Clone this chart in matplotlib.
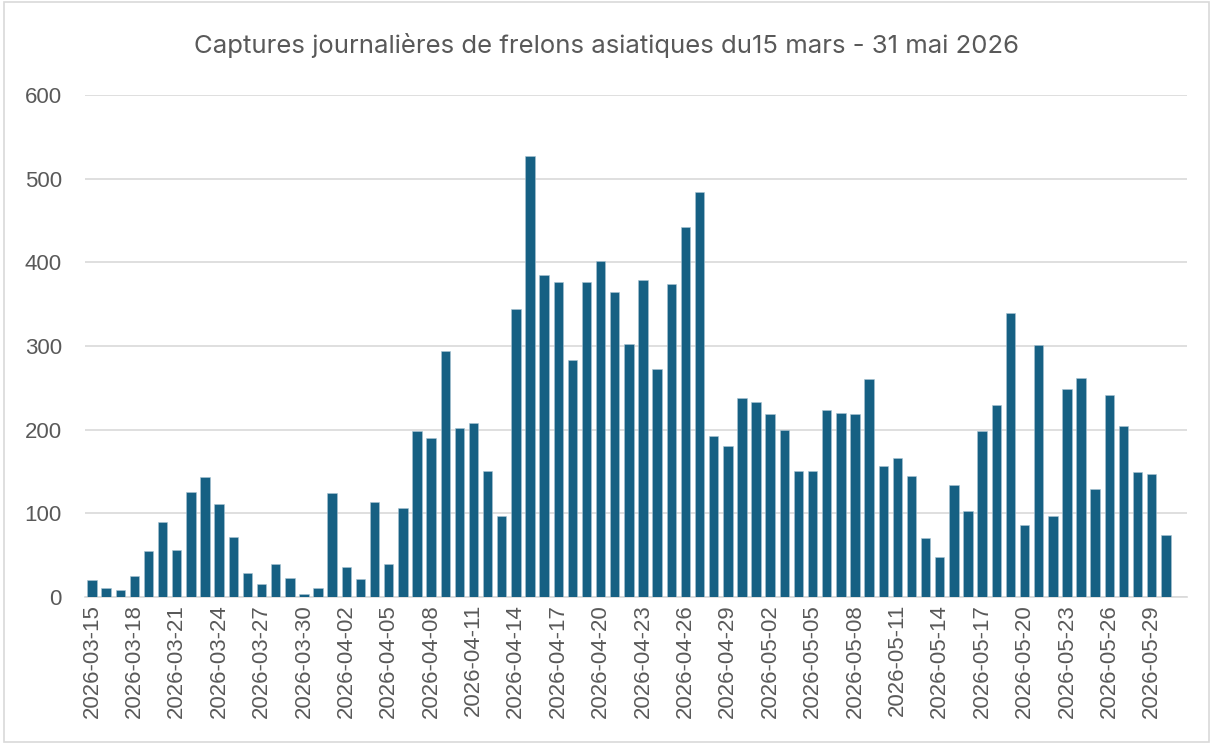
import pandas as pd
import matplotlib.pyplot as plt
from matplotlib.patches import Rectangle

# Daily captures, 2026-03-15 .. 2026-05-30 (axis runs to 05-31)
start_date = "2026-03-15"
end_date = "2026-05-31"
captures = [20, 11, 8, 25, 55, 90, 56, 126, 144, 111,
            72, 29, 15, 39, 23, 3, 11, 124, 36, 22,
            114, 40, 106, 198, 190, 294, 202, 208, 151, 97,
            344, 527, 385, 376, 283, 377, 402, 364, 302, 379,
            272, 374, 442, 484, 193, 181, 238, 233, 219, 200,
            151, 151, 224, 220, 219, 260, 157, 166, 145, 71,
            48, 134, 103, 198, 230, 340, 86, 301, 97, 249,
            262, 129, 242, 204, 149, 147, 74]
y_ticks = [0, 100, 200, 300, 400, 500, 600]
title = "Captures journalières de frelons asiatiques du15 mars - 31 mai 2026"

dates = pd.date_range(start_date, end_date, freq="D")
labels = [d.strftime("%Y-%m-%d") for d in dates]

bar_color = "#166083"
text_color = "#595959"
grid_color = "#d9d9d9"

plt.rcParams['font.family'] = ['Liberation Sans', 'DejaVu Sans']

fig = plt.figure(figsize=(12.13, 7.44), dpi=100)
ax = fig.add_axes([0.070, 0.1976, 0.9086, 0.6747])

ax.bar(range(len(captures)), captures, width=0.667, color=bar_color,
       edgecolor="#a9c4d3", linewidth=0.4, zorder=3)

ax.set_xlim(-0.5, len(dates) - 0.5)
ax.set_ylim(0, 600)
ax.set_yticks(y_ticks)
ax.set_yticklabels([str(v) for v in y_ticks])
ax.set_xticks(range(0, len(dates), 3))
ax.set_xticklabels(labels[::3], rotation=90)

ax.grid(True, axis='y', color=grid_color, linewidth=1.2, zorder=0)
for side in ['top', 'right', 'left']:
    ax.spines[side].set_visible(False)
ax.spines['bottom'].set_color(grid_color)
ax.spines['bottom'].set_linewidth(1.2)
ax.tick_params(axis='both', length=0, colors=text_color, labelsize=16)
ax.tick_params(axis='y', pad=16.5)
ax.tick_params(axis='x', pad=5)

fig.text(0.5, 0.939, title, ha='center', va='center', fontsize=18.5,
         color=text_color, family=['Inter', 'DejaVu Sans'])

# chart border like the spreadsheet frame
fig.patches.append(Rectangle((0.003, 0.003), 0.994, 0.994, transform=fig.transFigure,
                             fill=False, edgecolor="#d9d9d9", linewidth=1.2))

plt.savefig("out.png", dpi=100)
plt.close()
